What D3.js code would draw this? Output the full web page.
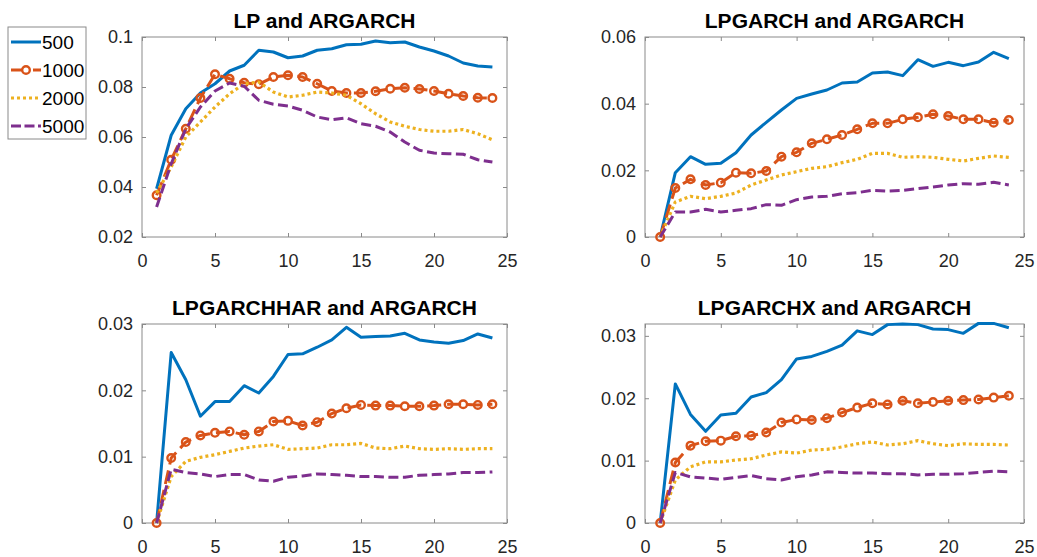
<!DOCTYPE html>
<html>
<head>
<meta charset="utf-8">
<script src="https://cdn.jsdelivr.net/npm/d3@7"></script>
<style>
  body { margin: 0; background: #ffffff; }
  svg { display: block; font-family: "Liberation Sans", Arial, sans-serif; }
</style>
</head>
<body>
<div id="chart-area"></div>
<script>
// horizons on the x axis
var horizon = [1, 2, 3, 4, 5, 6, 7, 8, 9, 10, 11, 12, 13, 14, 15, 16, 17, 18, 19, 20, 21, 22, 23, 24];
var sampleSizes = ["500", "1000", "2000", "5000"];
var xTicks = [0, 5, 10, 15, 20, 25];

// LP and ARGARCH
var lp500  = [0.0393, 0.0607, 0.0713, 0.0776, 0.0813, 0.0864, 0.0887, 0.0947, 0.0940, 0.0917, 0.0924, 0.0947, 0.0953, 0.0969, 0.0971, 0.0984, 0.0977, 0.0980, 0.0960, 0.0944, 0.0924, 0.0896, 0.0884, 0.0880];
var lp1000 = [0.0367, 0.0509, 0.0633, 0.0756, 0.0851, 0.0833, 0.0817, 0.0811, 0.0840, 0.0847, 0.0840, 0.0813, 0.0784, 0.0776, 0.0776, 0.0783, 0.0793, 0.0797, 0.0792, 0.0784, 0.0773, 0.0764, 0.0757, 0.0756];
var lp2000 = [0.0376, 0.0480, 0.0600, 0.0660, 0.0720, 0.0773, 0.0813, 0.0820, 0.0780, 0.0760, 0.0767, 0.0780, 0.0776, 0.0767, 0.0733, 0.0693, 0.0660, 0.0643, 0.0630, 0.0623, 0.0623, 0.0630, 0.0613, 0.0589];
var lp5000 = [0.0320, 0.0493, 0.0633, 0.0720, 0.0784, 0.0816, 0.0803, 0.0747, 0.0731, 0.0724, 0.0707, 0.0680, 0.0669, 0.0677, 0.0653, 0.0643, 0.0620, 0.0580, 0.0547, 0.0536, 0.0533, 0.0531, 0.0509, 0.0500];

// LPGARCH and ARGARCH
var lpg500  = [0, 0.0193, 0.0241, 0.0218, 0.0221, 0.0253, 0.0306, 0.0344, 0.0381, 0.0416, 0.0429, 0.0441, 0.0462, 0.0465, 0.0492, 0.0495, 0.0484, 0.0532, 0.0512, 0.0524, 0.0514, 0.0525, 0.0554, 0.0535];
var lpg1000 = [0, 0.0147, 0.0173, 0.0156, 0.0163, 0.0193, 0.0191, 0.0198, 0.0241, 0.0254, 0.0281, 0.0293, 0.0306, 0.0323, 0.0341, 0.0341, 0.0353, 0.0359, 0.0368, 0.0363, 0.0353, 0.0353, 0.0343, 0.0351];
var lpg2000 = [0, 0.0105, 0.0122, 0.0115, 0.0122, 0.0132, 0.0156, 0.0171, 0.0186, 0.0196, 0.0206, 0.0211, 0.0223, 0.0233, 0.0251, 0.0251, 0.0239, 0.0241, 0.0239, 0.0233, 0.0228, 0.0236, 0.0243, 0.0239];
var lpg5000 = [0, 0.0075, 0.0075, 0.0083, 0.0075, 0.0080, 0.0085, 0.0097, 0.0095, 0.0112, 0.0120, 0.0122, 0.0130, 0.0133, 0.0140, 0.0138, 0.0140, 0.0145, 0.0150, 0.0156, 0.0160, 0.0158, 0.0164, 0.0156];

// LPGARCHHAR and ARGARCH
var lph500  = [0, 0.0257, 0.0216, 0.0161, 0.0183, 0.0183, 0.0207, 0.0196, 0.0221, 0.0254, 0.0255, 0.0265, 0.0276, 0.0295, 0.0280, 0.0281, 0.0282, 0.0286, 0.0276, 0.0273, 0.0271, 0.0275, 0.0285, 0.0279];
var lph1000 = [0, 0.0098, 0.0122, 0.0132, 0.0136, 0.0138, 0.0133, 0.0138, 0.0153, 0.0154, 0.0147, 0.0152, 0.0165, 0.0173, 0.0178, 0.0177, 0.0177, 0.0176, 0.0176, 0.0177, 0.0179, 0.0179, 0.0178, 0.0179];
var lph2000 = [0, 0.0070, 0.0093, 0.0099, 0.0103, 0.0108, 0.0113, 0.0116, 0.0118, 0.0111, 0.0112, 0.0113, 0.0118, 0.0118, 0.0120, 0.0113, 0.0112, 0.0116, 0.0112, 0.0111, 0.0112, 0.0111, 0.0112, 0.0112];
var lph5000 = [0, 0.0081, 0.0076, 0.0074, 0.0070, 0.0073, 0.0073, 0.0065, 0.0063, 0.0069, 0.0071, 0.0074, 0.0073, 0.0072, 0.0070, 0.0070, 0.0069, 0.0069, 0.0072, 0.0073, 0.0074, 0.0076, 0.0076, 0.0077];

// LPGARCHX and ARGARCH
var lpx500  = [0, 0.0223, 0.0174, 0.0147, 0.0173, 0.0176, 0.0202, 0.0209, 0.0230, 0.0263, 0.0267, 0.0275, 0.0285, 0.0308, 0.0302, 0.0318, 0.0319, 0.0318, 0.0311, 0.0310, 0.0304, 0.0320, 0.0320, 0.0313];
var lpx1000 = [0, 0.0097, 0.0124, 0.0131, 0.0132, 0.0139, 0.0140, 0.0145, 0.0161, 0.0166, 0.0165, 0.0168, 0.0177, 0.0185, 0.0192, 0.0190, 0.0196, 0.0192, 0.0194, 0.0196, 0.0197, 0.0198, 0.0201, 0.0204];
var lpx2000 = [0, 0.0069, 0.0090, 0.0098, 0.0098, 0.0101, 0.0103, 0.0109, 0.0114, 0.0112, 0.0117, 0.0118, 0.0122, 0.0127, 0.0130, 0.0125, 0.0127, 0.0132, 0.0127, 0.0124, 0.0127, 0.0126, 0.0126, 0.0125];
var lpx5000 = [0, 0.0081, 0.0074, 0.0072, 0.0070, 0.0073, 0.0076, 0.0071, 0.0069, 0.0074, 0.0077, 0.0082, 0.0081, 0.0080, 0.0080, 0.0079, 0.0079, 0.0077, 0.0078, 0.0078, 0.0079, 0.0081, 0.0083, 0.0082];

var panels = [
  { title: "LP and ARGARCH", series: [lp500, lp1000, lp2000, lp5000], yDomain: [0.02, 0.1], yTicks: [0.02, 0.04, 0.06, 0.08, 0.1],
    left: 142, top: 37, width: 365, height: 200 },
  { title: "LPGARCH and ARGARCH", series: [lpg500, lpg1000, lpg2000, lpg5000], yDomain: [0, 0.06], yTicks: [0, 0.02, 0.04, 0.06],
    left: 645, top: 37, width: 379, height: 200 },
  { title: "LPGARCHHAR and ARGARCH", series: [lph500, lph1000, lph2000, lph5000], yDomain: [0, 0.03], yTicks: [0, 0.01, 0.02, 0.03],
    left: 142, top: 324, width: 365, height: 199 },
  { title: "LPGARCHX and ARGARCH", series: [lpx500, lpx1000, lpx2000, lpx5000], yDomain: [0, 0.0319], yTicks: [0, 0.01, 0.02, 0.03],
    left: 645, top: 324, width: 379, height: 199 }
];

var colors = ["#0072BD", "#D95319", "#EDB120", "#7E2F8E"];
var dashes = [null, "14,6", "3,3", "10,4.5"];
var axisColor = "#8a8a8a";
var textColor = "#262626";

var svg = d3.select("#chart-area")
  .append("svg")
  .attr("width", 1037)
  .attr("height", 557);

var fmt = function (d) { return String(+d.toFixed(3)); };

panels.forEach(function (p) {
  var g = svg.append("g").attr("transform", "translate(" + p.left + "," + p.top + ")");
  var x = d3.scaleLinear().domain([0, 25]).range([0, p.width]);
  var y = d3.scaleLinear().domain(p.yDomain).range([p.height, 0]);

  g.append("rect")
    .attr("width", p.width)
    .attr("height", p.height)
    .attr("fill", "#ffffff");

  // ticks on all four sides, pointing in
  var bottom = g.append("g").attr("transform", "translate(0," + p.height + ")")
    .call(d3.axisBottom(x).tickValues(xTicks).tickSizeInner(-4).tickSizeOuter(0).tickPadding(17));
  var topAx = g.append("g")
    .call(d3.axisTop(x).tickValues(xTicks).tickSizeInner(-4).tickSizeOuter(0).tickFormat(""));
  var leftAx = g.append("g")
    .call(d3.axisLeft(y).tickValues(p.yTicks).tickFormat(fmt).tickSizeInner(-4).tickSizeOuter(0).tickPadding(9));
  var rightAx = g.append("g").attr("transform", "translate(" + p.width + ",0)")
    .call(d3.axisRight(y).tickValues(p.yTicks).tickSizeInner(-4).tickSizeOuter(0).tickFormat(""));

  [bottom, topAx, leftAx, rightAx].forEach(function (a) {
    a.select(".domain").remove();
    a.selectAll("line").attr("stroke", axisColor);
    a.selectAll("text").attr("fill", textColor).attr("font-size", "18px")
      .attr("font-family", "'Liberation Sans', Arial, sans-serif");
  });

  g.append("rect")
    .attr("width", p.width)
    .attr("height", p.height)
    .attr("fill", "none")
    .attr("stroke", axisColor)
    .attr("stroke-width", 1);

  var line = d3.line()
    .x(function (d, i) { return x(horizon[i]); })
    .y(function (d) { return y(d); });

  p.series.forEach(function (vals, k) {
    g.append("path")
      .datum(vals)
      .attr("d", line)
      .attr("fill", "none")
      .attr("stroke", colors[k])
      .attr("stroke-width", k === 2 ? 3.2 : 3)
      .attr("stroke-linejoin", "round")
      .attr("stroke-dasharray", dashes[k]);

    if (k === 1) {
      g.selectAll(".mk")
        .data(vals)
        .enter()
        .append("circle")
        .attr("cx", function (d, i) { return x(horizon[i]); })
        .attr("cy", function (d) { return y(d); })
        .attr("r", 3.8)
        .attr("fill", "none")
        .attr("stroke", colors[k])
        .attr("stroke-width", 2.4);
    }
  });

  svg.append("text")
    .attr("x", p.left + p.width / 2)
    .attr("y", p.top - 9)
    .attr("text-anchor", "middle")
    .attr("font-size", "21px")
    .attr("font-weight", "bold")
    .attr("fill", "#000000")
    .text(p.title);
});

// legend
var legend = svg.append("g");
legend.append("rect")
  .attr("x", 8).attr("y", 27)
  .attr("width", 78).attr("height", 112)
  .attr("fill", "#ffffff")
  .attr("stroke", axisColor);

var legendY = d3.scalePoint().domain(sampleSizes).range([42, 126]);

sampleSizes.forEach(function (name, k) {
  var cy = legendY(name);
  legend.append("line")
    .attr("x1", 11).attr("x2", 41)
    .attr("y1", cy).attr("y2", cy)
    .attr("stroke", colors[k])
    .attr("stroke-width", k === 2 ? 3.2 : 3)
    .attr("stroke-dasharray", k === 1 ? "16,6" : (k === 3 ? "10,3.5" : dashes[k]));
  if (k === 1) {
    legend.append("circle")
      .attr("cx", 26).attr("cy", cy).attr("r", 3.8)
      .attr("fill", "#ffffff")
      .attr("stroke", colors[k])
      .attr("stroke-width", 2.4);
  }
  legend.append("text")
    .attr("x", 42).attr("y", cy)
    .attr("dy", "0.35em")
    .attr("font-size", "19px")
    .attr("fill", "#000000")
    .text(name);
});
</script>
</body>
</html>
